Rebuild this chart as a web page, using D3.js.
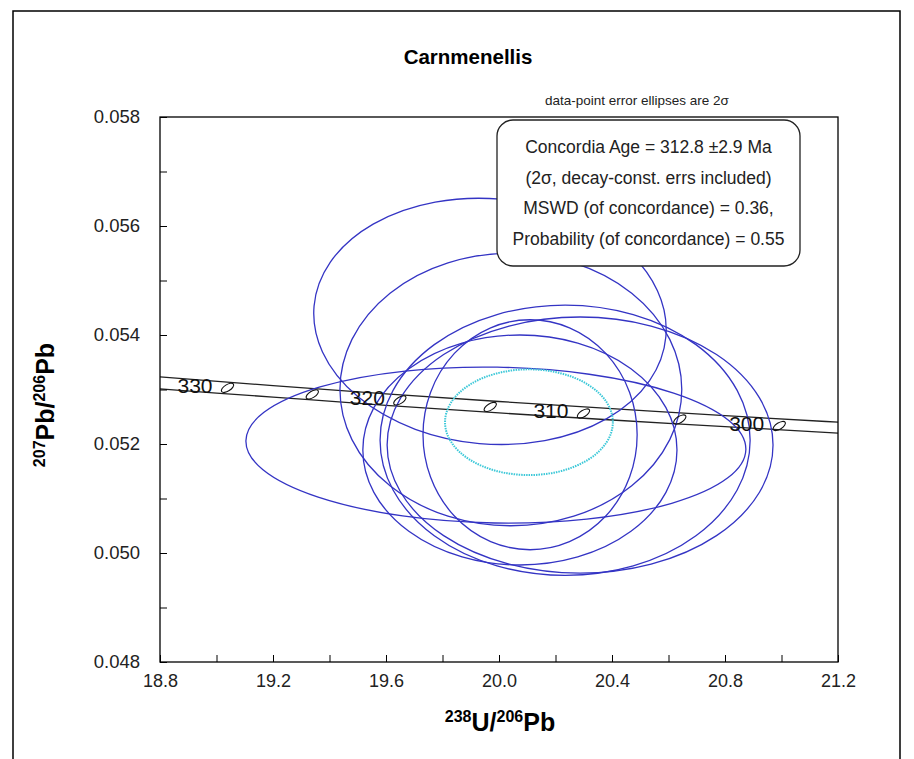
<!DOCTYPE html>
<html><head><meta charset="utf-8">
<script src="https://cdn.jsdelivr.net/npm/d3@7"></script>
<style>body{margin:0;background:#fff;} svg{display:block;font-family:Arial,"Liberation Sans",sans-serif;}</style>
</head><body>
<svg id="c" width="914" height="759"></svg>
<script>
// ---- data ----
const xTicks = [18.8, 19.2, 19.6, 20.0, 20.4, 20.8, 21.2];
const yTicks = [0.048, 0.050, 0.052, 0.054, 0.056, 0.058];
// blue data-point error ellipses (2 sigma): centre, half-widths, tilt (deg)
const ellCx   = [19.968, 20.042, 19.989, 20.234, 20.287, 20.110, 20.074];
const ellCy   = [0.05425, 0.05300, 0.05198, 0.05207, 0.05198, 0.05217, 0.05189];
const ellRx   = [0.625, 0.605, 0.885, 0.655, 0.683, 0.379, 0.556];
const ellRy   = [0.00225, 0.00250, 0.00143, 0.00248, 0.00235, 0.00211, 0.00211];
const ellTilt = [5, 0, 1, 0, 0, 0, 0];
// concordia age ellipse
const ageEll = {cx: 20.106, cy: 0.05240, rx: 0.297, ry: 0.00097};
// concordia band (decay-constant errors)
const bandX     = [18.8, 19.2, 19.6, 20.0, 20.4, 20.8, 21.2];
const bandUpper = [0.05323, 0.05307, 0.05292, 0.05278, 0.05265, 0.05252, 0.05240];
const bandLower = [0.05301, 0.05286, 0.05271, 0.05257, 0.05244, 0.05232, 0.05220];
// age markers on concordia
const ages   = [330, 325, 320, 315, 310, 305, 300];
const ageX   = [19.039, 19.339, 19.649, 19.969, 20.299, 20.640, 20.992];
const ageY   = [0.05303, 0.05291, 0.05280, 0.05268, 0.05256, 0.05245, 0.05233];
const labelledAges = [330, 320, 310, 300];
const boxLines = ["Concordia Age = 312.8 \u00b12.9 Ma",
                  "(2\u03c3,  decay-const. errs included)",
                  "MSWD  (of concordance) = 0.36,",
                  "Probability (of concordance) = 0.55"];

// ---- drawing ----
const svg = d3.select("#c");
const L = 160, R = 838, T = 117, B = 662;
const x = d3.scaleLinear().domain([18.8, 21.2]).range([L, R]);
const y = d3.scaleLinear().domain([0.048, 0.058]).range([B, T]);

// outer frame
svg.append("path").attr("d", `M13,765 L13,11 L900,11 L900,765`)
  .attr("fill","none").attr("stroke","#000").attr("stroke-width",1.5);

// title
svg.append("text").attr("x", 468).attr("y", 64).attr("text-anchor","middle")
  .attr("font-size", 20.5).attr("font-weight","bold").text("Carnmenellis");
svg.append("text").attr("x", 637).attr("y", 105).attr("text-anchor","middle")
  .attr("font-size", 13.5).attr("fill","#222").text("data-point error ellipses are 2\u03c3");

const plot = svg.append("g");
plot.append("clipPath").attr("id","clip").append("rect")
  .attr("x",L).attr("y",T).attr("width",R-L).attr("height",B-T);
const inner = plot.append("g").attr("clip-path","url(#clip)");

// concordia band
const line = d3.line().x((d,i)=>x(bandX[i])).y(d=>y(d)).curve(d3.curveMonotoneX);
[bandUpper, bandLower].forEach(arr=>{
  inner.append("path").attr("d", line(arr)).attr("fill","none")
    .attr("stroke","#222").attr("stroke-width",1.3);
});

// blue ellipses
ellCx.forEach((cx,i)=>{
  const px = x(cx), py = y(ellCy[i]);
  inner.append("ellipse").attr("cx",px).attr("cy",py)
    .attr("rx", x(cx+ellRx[i]) - px).attr("ry", py - y(ellCy[i]+ellRy[i]))
    .attr("transform", `rotate(${ellTilt[i]},${px},${py})`)
    .attr("fill","none").attr("stroke","#3434c4").attr("stroke-width",1.3);
});

// age markers
ages.forEach((a,i)=>{
  const px = x(ageX[i]), py = y(ageY[i]);
  inner.append("ellipse").attr("cx",px).attr("cy",py).attr("rx",7).attr("ry",3.2)
    .attr("transform",`rotate(-32,${px},${py})`)
    .attr("fill","none").attr("stroke","#111").attr("stroke-width",1.1);
  if (labelledAges.includes(a)) {
    inner.append("text").attr("x", px-15).attr("y", py+5).attr("text-anchor","end")
      .attr("font-size", 21).attr("fill","#111").text(a);
  }
});

// concordia age ellipse (cyan, dotted)
{
  const px = x(ageEll.cx), py = y(ageEll.cy);
  inner.append("ellipse").attr("cx",px).attr("cy",py)
    .attr("rx", x(ageEll.cx+ageEll.rx)-px).attr("ry", py - y(ageEll.cy+ageEll.ry))
    .attr("fill","none").attr("stroke","#3cc8d8").attr("stroke-width",2)
    .attr("stroke-dasharray","1.5,1");
}

// plot frame
plot.append("rect").attr("x",L).attr("y",T).attr("width",R-L).attr("height",B-T)
  .attr("fill","none").attr("stroke","#000").attr("stroke-width",1.3);

// axes (ticks inward)
const xAxis = d3.axisBottom(x).tickValues(d3.range(18.8, 21.21, 0.2)).tickSize(-7)
  .tickFormat(d => xTicks.some(t=>Math.abs(t-d)<1e-6) ? d3.format(".1f")(d) : "");
const xg = svg.append("g").attr("transform",`translate(0,${B})`).call(xAxis);
xg.select(".domain").remove();
xg.selectAll("text").attr("font-size",18).attr("fill","#222").attr("dy","1.2em")
  .attr("font-family","Arial, 'Liberation Sans', sans-serif");
const yAxis = d3.axisLeft(y).tickValues(d3.range(0.048, 0.05801, 0.001)).tickSize(-7)
  .tickFormat(d => yTicks.some(t=>Math.abs(t-d)<1e-7) ? d3.format(".3f")(d) : "");
const yg = svg.append("g").attr("transform",`translate(${L},0)`).call(yAxis);
yg.select(".domain").remove();
yg.selectAll("text").attr("font-size",18.5).attr("fill","#222").attr("x",-20)
  .attr("font-family","Arial, 'Liberation Sans', sans-serif");
svg.selectAll(".tick line").attr("stroke","#000").attr("stroke-width",1);

// axis titles
const xt = svg.append("text").attr("x", 500).attr("y", 731).attr("text-anchor","middle")
  .attr("font-weight","bold").attr("font-size",25);
xt.append("tspan").attr("font-size",16).attr("dy",-9).text("238");
xt.append("tspan").attr("dy",9).text("U/");
xt.append("tspan").attr("font-size",16).attr("dy",-9).text("206");
xt.append("tspan").attr("dy",9).text("Pb");

const yt = svg.append("text").attr("transform","translate(54,405) rotate(-90)")
  .attr("text-anchor","middle").attr("font-weight","bold").attr("font-size",25);
yt.append("tspan").attr("font-size",16).attr("dy",-9).text("207");
yt.append("tspan").attr("dy",9).text("Pb/");
yt.append("tspan").attr("font-size",16).attr("dy",-9).text("206");
yt.append("tspan").attr("dy",9).text("Pb");

// info box
const bx = 497, by = 120, bw = 303, bh = 146;
svg.append("rect").attr("x",bx).attr("y",by).attr("width",bw).attr("height",bh)
  .attr("rx",16).attr("ry",16).attr("fill","#fff").attr("stroke","#222").attr("stroke-width",1.3);
boxLines.forEach((t,i)=>{
  svg.append("text").attr("x", bx+bw/2).attr("y", by+33+i*30.5).attr("text-anchor","middle")
    .attr("font-size",17.5).attr("fill","#222").text(t);
});
</script>
</body></html>
